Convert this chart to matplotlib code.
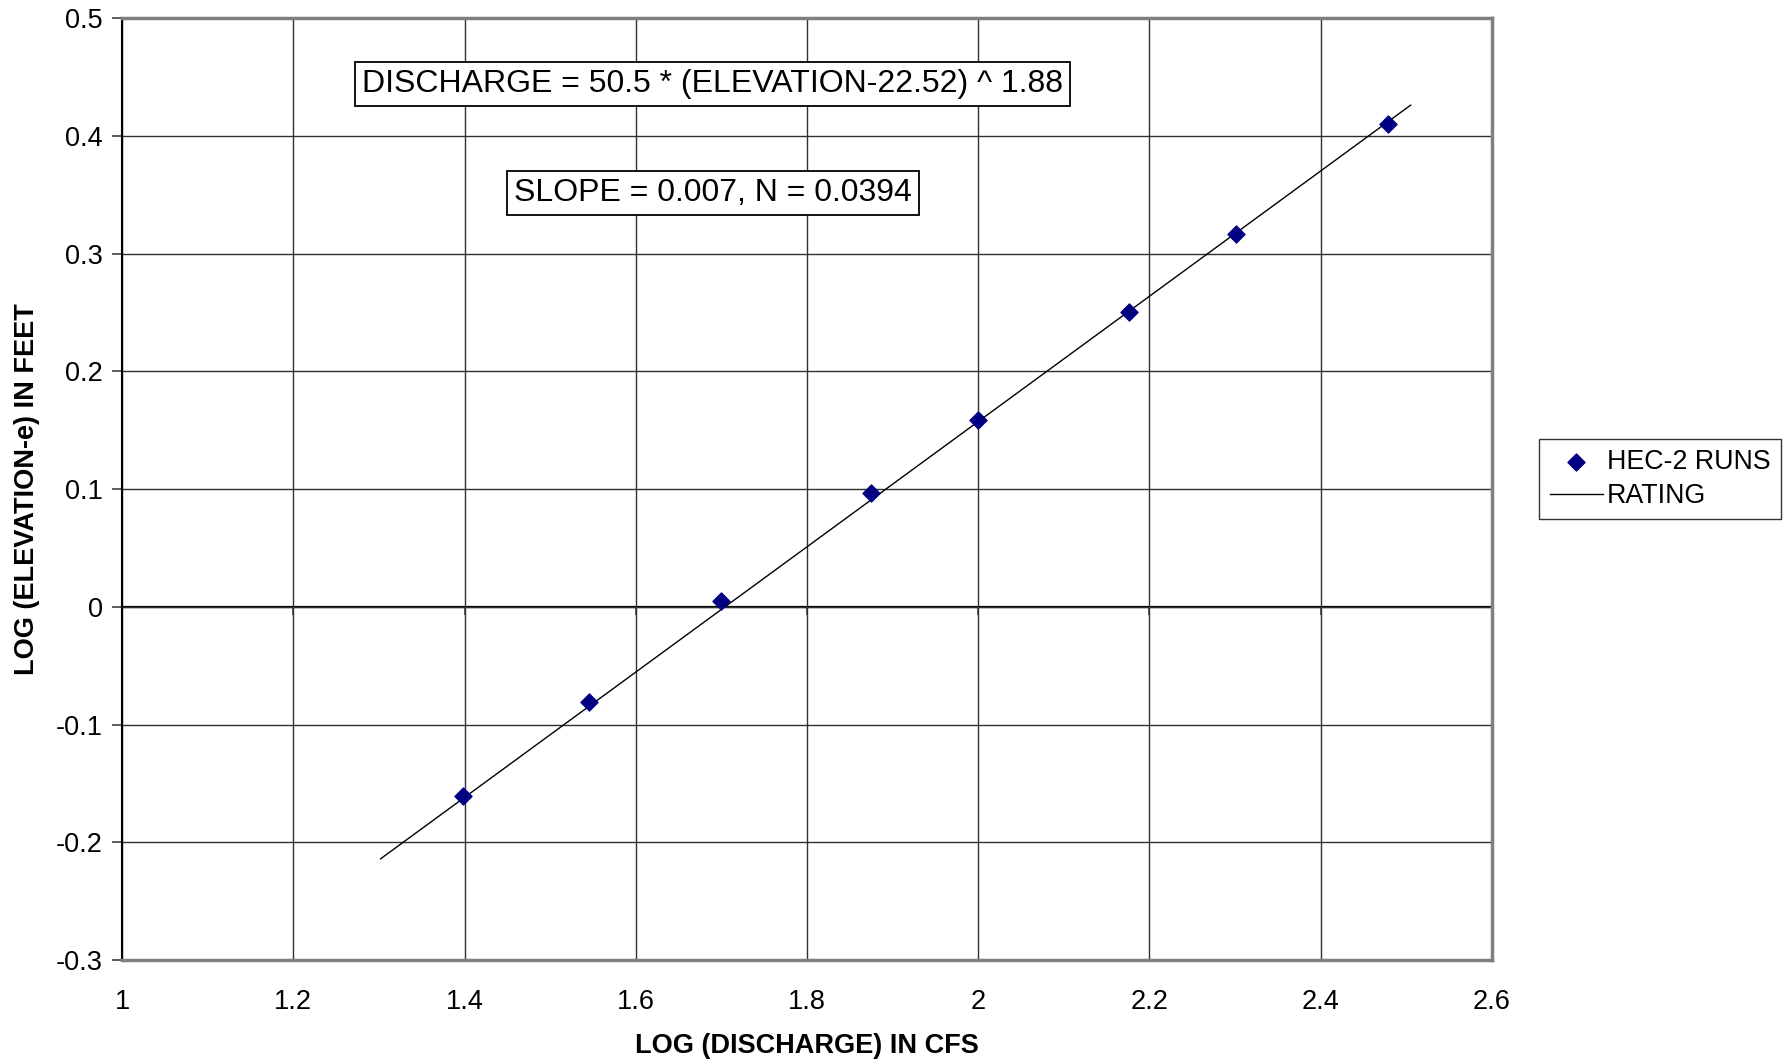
import matplotlib
matplotlib.use("Agg")
import matplotlib.pyplot as plt
from matplotlib.ticker import FuncFormatter

plt.rcParams["font.family"] = ["Liberation Sans", "DejaVu Sans"]

# HEC-2 runs
log_q = [1.398, 1.545, 1.699, 1.875, 2.000, 2.176, 2.301, 2.478]
log_e = [-0.161, -0.081, 0.005, 0.097, 0.159, 0.250, 0.317, 0.410]

# rating line end points
rating_x = [1.302, 2.505]
rating_y = [-0.214, 0.426]

x_ticks = [1.0, 1.2, 1.4, 1.6, 1.8, 2.0, 2.2, 2.4, 2.6]
y_ticks = [-0.3, -0.2, -0.1, 0.0, 0.1, 0.2, 0.3, 0.4, 0.5]

fig = plt.figure(figsize=(17.9, 10.6), dpi=100)
ax = fig.add_axes([0.0682, 0.0943, 0.7653, 0.8887])

ax.set_xlim(1.0, 2.6)
ax.set_ylim(-0.3, 0.5)
ax.set_xticks(x_ticks)
ax.set_yticks(y_ticks)
ax.grid(True, color="#303030", lw=1.0)
ax.set_axisbelow(True)

fmt = FuncFormatter(lambda v, p: f"{v:g}")
ax.xaxis.set_major_formatter(fmt)
ax.yaxis.set_major_formatter(fmt)

for s in ["top", "right", "bottom"]:
    ax.spines[s].set_color("#808080")
    ax.spines[s].set_linewidth(2.5)
ax.spines["left"].set_color("black")
ax.spines["left"].set_linewidth(1.5)

ax.tick_params(axis="y", direction="out", length=7, width=1.2, color="#404040",
               labelsize=19.5, pad=7)
ax.tick_params(axis="x", length=0, labelsize=19.5, pad=21)

# horizontal axis crossing at zero, with its own tick marks
zero_ax = ax.secondary_xaxis(0.0, transform=ax.transData)
zero_ax.set_xticks(x_ticks)
zero_ax.tick_params(axis="x", direction="out", length=6, width=1.2,
                    color="#404040", labelbottom=False)
zero_ax.spines["bottom"].set_color("black")
zero_ax.spines["bottom"].set_linewidth(1.6)

ax.plot(rating_x, rating_y, color="black", lw=1.0, label="RATING", zorder=3)
ax.scatter(log_q, log_e, marker="D", s=75, color="#000080", edgecolors="#000080",
           label="HEC-2 RUNS", zorder=4)

box = dict(boxstyle="square,pad=0.22", facecolor="white", edgecolor="black", lw=1.3)
ax.text(1.69, 0.444, "DISCHARGE = 50.5 * (ELEVATION-22.52) ^ 1.88", fontsize=23,
        ha="center", va="center", bbox=box, zorder=5)
ax.text(1.69, 0.351, "SLOPE = 0.007, N = 0.0394", fontsize=23,
        ha="center", va="center", bbox=box, zorder=5)

ax.set_xlabel("LOG (DISCHARGE) IN CFS", fontsize=19.5, fontweight="bold", labelpad=13)
ax.set_ylabel("LOG (ELEVATION-e) IN FEET", fontsize=19.5, fontweight="bold", labelpad=11)

handles, labels = ax.get_legend_handles_labels()
leg = fig.legend(handles[::-1], labels[::-1], loc="center left",
                 bbox_to_anchor=(0.857, 0.548), fontsize=19.3, frameon=True,
                 fancybox=False, edgecolor="black", handlelength=2.0,
                 handletextpad=0.15, borderpad=0.38, labelspacing=0.3,
                 borderaxespad=0.2)
leg.get_frame().set_linewidth(1.0)

fig.savefig("out.png", dpi=100, facecolor="white")
